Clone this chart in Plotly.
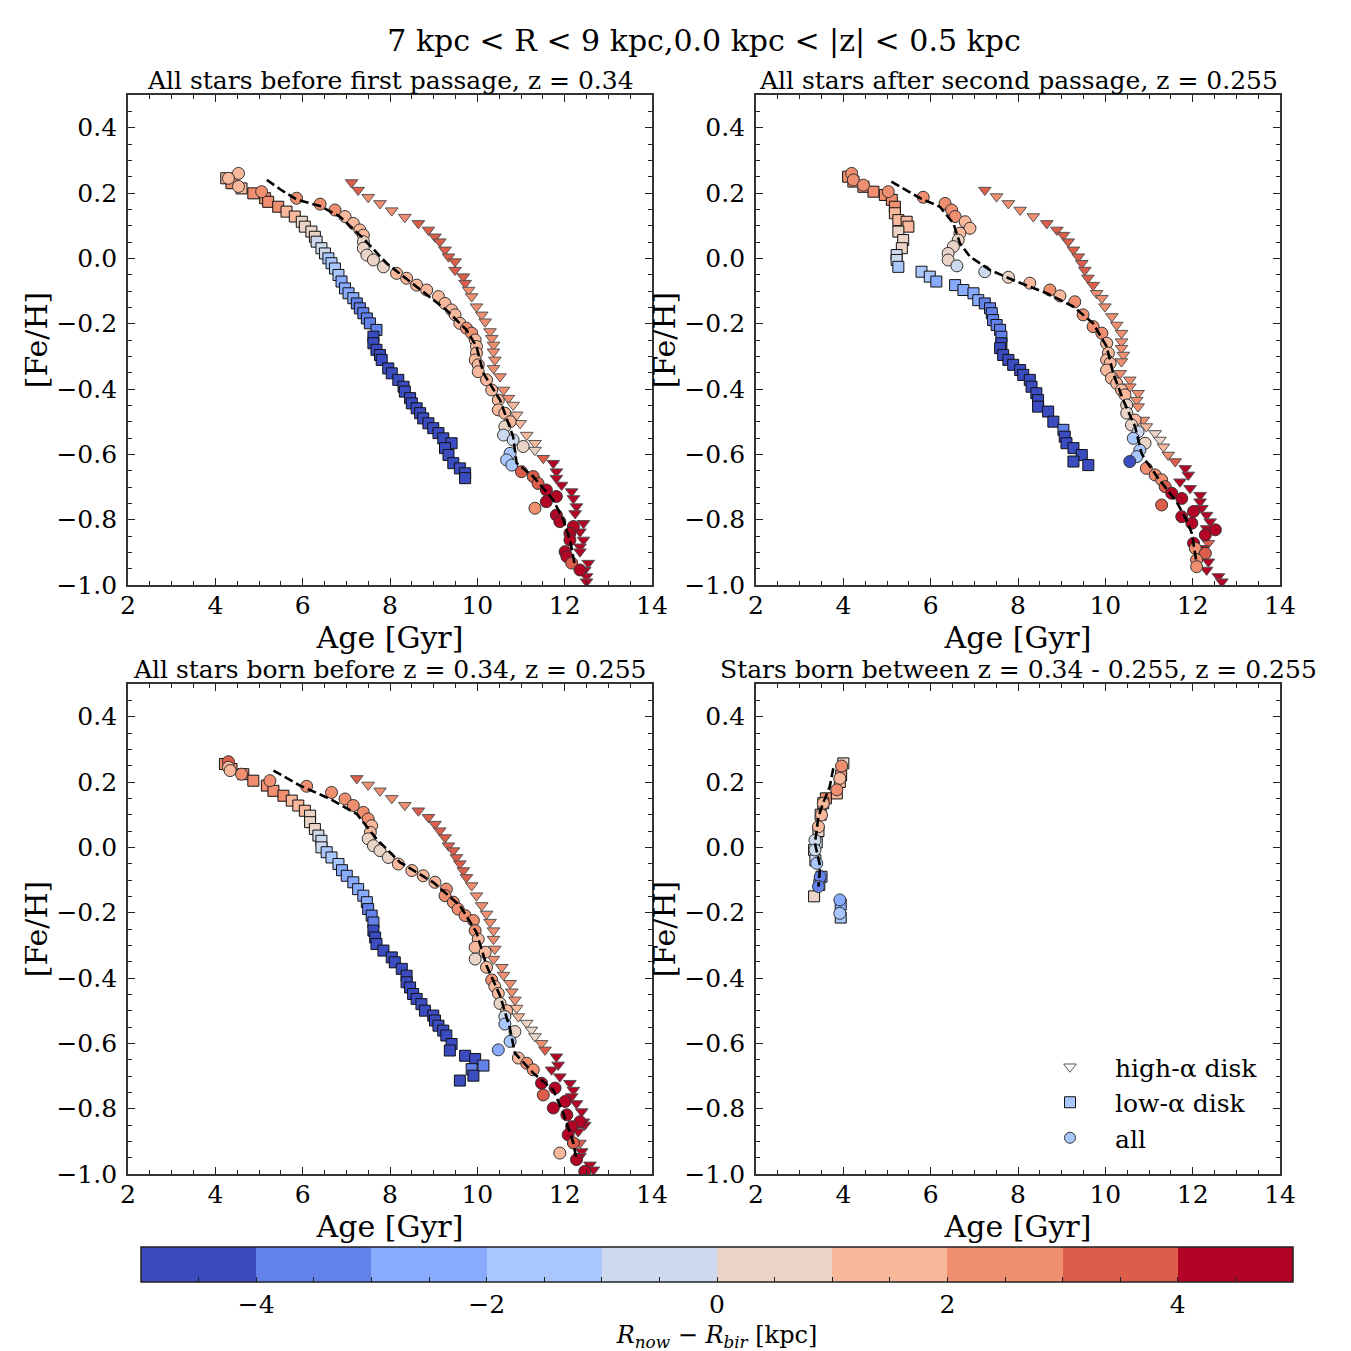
import plotly.graph_objects as go

FONT = "DejaVu Serif"
FW = 1343   # figure size (page has an 8px body margin)
OFF = 8

# ---------------- colour bins (R_now - R_bir) ----------------
bin_colors = ["#3b4cc0", "#6282ea", "#88abfd", "#aac7fd", "#cdd9ec",
              "#ead4c8", "#f7b89c", "#f08f70", "#dc5d4a", "#b40426"]
cbar_tickvals = [-4.5, -4, -3.5, -3, -2.5, -2, -1.5, -1, -0.5, 0, 0.5, 1, 1.5, 2, 2.5, 3, 3.5, 4, 4.5]
cbar_ticktext = ["", "\u22124", "", "", "", "\u22122", "", "", "", "0", "", "", "", "2", "", "", "", "4", ""]

# ---------------- panel 1: before first passage ----------------
p1_lo_age = [4.25,4.37,4.6,4.87,5.14,5.21,5.44,5.63,5.82,5.98,6.05,6.2,6.28,6.32,6.43,6.51,6.59,6.66,6.74,6.82,
             6.89,6.97,7.05,7.16,7.24,7.31,7.39,7.47,7.54,7.69,7.62,7.62,7.69,7.77,7.81,7.96,8.04,8.19,8.31,8.34,
             8.46,8.5,8.61,8.69,8.76,8.88,8.99,9.11,9.22,9.41,9.26,9.34,9.45,9.6,9.72,9.72]
p1_lo_feh = [0.245,0.23,0.214,0.199,0.184,0.173,0.158,0.143,0.128,0.112,0.097,0.082,0.066,0.051,0.031,0.015,0.0,-0.015,-0.031,-0.051,
             -0.071,-0.092,-0.107,-0.122,-0.138,-0.153,-0.168,-0.184,-0.199,-0.219,-0.24,-0.26,-0.28,-0.296,-0.311,-0.337,-0.352,-0.372,-0.393,-0.408,
             -0.428,-0.444,-0.459,-0.474,-0.49,-0.505,-0.52,-0.535,-0.551,-0.566,-0.581,-0.602,-0.627,-0.643,-0.658,-0.673]
p1_lo_dr = [1.5,2.5,1.5,2.5,2.5,2.5,2.5,1.5,1.5,0.5,0.5,0.5,0.5,-0.5,-0.5,-0.5,-1.5,-1.5,-1.5,-1.5,
            -2.5,-2.5,-2.5,-2.5,-3.5,-3.5,-3.5,-3.5,-3.5,-3.5,-4.5,-4.5,-4.5,-4.5,-4.5,-4.5,-4.5,-4.5,-4.5,-4.5,
            -4.5,-4.5,-4.5,-4.5,-4.5,-4.5,-4.5,-4.5,-4.5,-4.5,-4.5,-4.5,-4.5,-4.5,-4.5,-4.5]

p1_all_age = [4.53,4.3,4.53,5.06,5.86,6.4,6.74,6.97,7.16,7.31,7.39,7.39,7.39,7.47,7.62,7.85,8.15,8.38,8.61,8.84,
              9.11,9.26,9.41,9.49,9.6,9.75,9.87,9.95,9.98,9.98,9.95,10.02,10.02,10.21,10.33,10.48,10.48,10.63,10.75,10.63,
              10.6,10.82,11.05,10.75,10.67,10.79,11.01,11.28,11.39,11.58,11.81,11.58,11.32,11.81,11.89,12.2,12.12,12.12,12.01,12.05,
              12.16,12.35]
p1_all_feh = [0.26,0.245,0.22,0.204,0.184,0.166,0.148,0.128,0.107,0.087,0.071,0.051,0.031,0.01,-0.005,-0.026,-0.046,-0.061,-0.082,-0.097,
              -0.117,-0.138,-0.158,-0.173,-0.199,-0.214,-0.229,-0.25,-0.27,-0.29,-0.311,-0.326,-0.347,-0.372,-0.403,-0.434,-0.464,-0.474,-0.5,-0.515,
              -0.541,-0.556,-0.576,-0.597,-0.617,-0.633,-0.653,-0.668,-0.689,-0.709,-0.729,-0.745,-0.765,-0.786,-0.806,-0.821,-0.842,-0.862,-0.898,-0.913,
              -0.933,-0.954]
p1_all_dr = [1.5,1.5,1.5,2.5,2.5,2.5,2.5,1.5,1.5,1.5,1.5,0.5,0.5,0.5,0.5,0.5,1.5,1.5,1.5,1.5,
             1.5,1.5,1.5,1.5,1.5,2.5,2.5,1.5,1.5,1.5,1.5,1.5,1.5,1.5,1.5,1.5,1.5,1.5,1.5,0.5,
             -0.5,-0.5,0.5,-1.5,-1.5,-1.5,3.5,3.5,3.5,4.5,4.5,4.5,2.5,4.5,4.5,4.5,4.5,4.5,4.5,4.5,
             3.5,4.5]

p1_hi_age = [7.12,7.27,7.5,7.77,8.04,8.34,8.65,8.88,9.03,9.14,9.26,9.34,9.49,9.49,9.68,9.72,9.8,9.87,9.98,10.1,
             10.18,10.29,10.33,10.37,10.37,10.4,10.37,10.52,10.6,10.71,10.82,10.9,10.98,11.13,11.32,11.32,11.51,11.74,11.81,11.81,
             11.93,12.16,12.2,12.27,12.24,12.43,12.35,12.43,12.35,12.35,12.54,12.46,12.5,12.5]
p1_hi_feh = [0.232,0.209,0.187,0.168,0.146,0.126,0.107,0.087,0.066,0.051,0.026,0.005,-0.01,-0.036,-0.056,-0.076,-0.097,-0.117,-0.148,-0.173,
             -0.194,-0.224,-0.245,-0.265,-0.286,-0.311,-0.337,-0.362,-0.403,-0.428,-0.449,-0.479,-0.505,-0.541,-0.566,-0.587,-0.612,-0.627,-0.653,-0.673,
             -0.694,-0.714,-0.735,-0.76,-0.781,-0.811,-0.837,-0.862,-0.883,-0.898,-0.933,-0.954,-0.974,-0.99]
p1_hi_dr = [3.5,3.5,2.5,2.5,2.5,2.5,3.5,3.5,3.5,3.5,3.5,3.5,3.5,3.5,3.5,3.5,2.5,2.5,2.5,2.5,
            2.5,2.5,2.5,2.5,2.5,2.5,2.5,2.5,2.5,2.5,1.5,1.5,1.5,1.5,1.5,0.5,3.5,4.5,4.5,4.5,
            4.5,4.5,4.5,4.5,4.5,4.5,4.5,4.5,4.5,4.5,4.5,4.5,4.5,4.5]

p1_mean_age = [5.18,5.5,5.86,6.4,6.85,7.39,7.92,8.61,9.29,9.75,9.98,10.14,10.52,10.82,10.9,11.28,11.74,11.97,12.12,12.24]
p1_mean_feh = [0.24,0.21,0.18,0.16,0.128,0.061,-0.015,-0.087,-0.158,-0.219,-0.27,-0.352,-0.434,-0.546,-0.627,-0.668,-0.74,-0.801,-0.862,-0.944]

# ---------------- panel 2: after second passage ----------------
p2_lo_age = [4.11,4.23,4.46,4.69,4.95,5.11,5.18,5.18,5.26,5.45,5.49,5.26,5.37,5.34,5.22,5.22,5.26,5.79,5.98,6.13,
             6.56,6.75,6.98,7.09,7.24,7.36,7.4,7.43,7.51,7.59,7.62,7.62,7.59,7.66,7.78,7.89,8.05,8.12,8.27,8.31,
             8.42,8.46,8.46,8.69,8.81,9.04,9.07,9.11,9.27,9.46,9.27,9.61]
p2_lo_feh = [0.25,0.235,0.219,0.204,0.194,0.179,0.158,0.138,0.117,0.112,0.097,0.082,0.056,0.031,0.01,-0.005,-0.026,-0.041,-0.056,-0.071,
             -0.082,-0.097,-0.107,-0.128,-0.138,-0.153,-0.168,-0.189,-0.204,-0.219,-0.24,-0.26,-0.275,-0.296,-0.311,-0.326,-0.342,-0.357,-0.372,-0.393,
             -0.413,-0.434,-0.454,-0.469,-0.5,-0.525,-0.546,-0.566,-0.581,-0.602,-0.622,-0.633]
p2_lo_dr = [2.5,2.5,2.5,2.5,2.5,2.5,2.5,1.5,1.5,1.5,1.5,0.5,0.5,0.5,-0.5,-0.5,-1.5,-1.5,-1.5,-2.5,
            -2.5,-2.5,-2.5,-2.5,-3.5,-3.5,-3.5,-3.5,-3.5,-3.5,-3.5,-4.5,-4.5,-4.5,-4.5,-4.5,-4.5,-4.5,-4.5,-4.5,
            -4.5,-4.5,-4.5,-4.5,-4.5,-3.5,-4.5,-4.5,-4.5,-4.5,-4.5,-4.5]

p2_all_age = [4.19,4.23,4.46,5.03,5.83,6.33,6.48,6.56,6.79,6.9,6.67,6.63,6.52,6.4,6.4,6.6,7.24,7.78,8.27,8.73,
              8.96,9.3,9.49,9.72,9.92,10.03,10.07,10.03,10.11,10.03,10.14,10.26,10.37,10.45,10.49,10.49,10.68,10.6,10.75,10.64,
              10.91,10.79,10.72,10.56,10.94,11.14,11.29,11.37,11.52,11.75,11.29,12.02,11.75,11.98,12.52,12.29,12.02,12.06,12.29,12.09,
              12.09]
p2_all_feh = [0.26,0.24,0.224,0.204,0.187,0.168,0.148,0.128,0.112,0.092,0.077,0.056,0.036,0.015,-0.005,-0.023,-0.041,-0.058,-0.076,-0.097,
              -0.115,-0.133,-0.173,-0.209,-0.229,-0.26,-0.29,-0.311,-0.321,-0.342,-0.367,-0.383,-0.403,-0.418,-0.449,-0.474,-0.495,-0.51,-0.531,-0.551,
              -0.566,-0.587,-0.607,-0.622,-0.643,-0.663,-0.678,-0.699,-0.719,-0.735,-0.755,-0.775,-0.791,-0.811,-0.831,-0.847,-0.872,-0.888,-0.903,-0.923,
              -0.944]
p2_all_dr = [2.5,2.5,2.5,2.5,2.5,2.5,2.5,2.5,1.5,1.5,1.5,0.5,0.5,0.5,0.5,-0.5,-0.5,0.5,1.5,2.5,
             1.5,2.5,2.5,2.5,2.5,1.5,1.5,1.5,1.5,1.5,1.5,1.5,1.5,1.5,0.5,0.5,1.5,0.5,-0.5,-1.5,
             0.5,-1.5,-1.5,-4.5,2.5,2.5,2.5,3.5,4.5,4.5,3.5,4.5,4.5,4.5,4.5,4.5,4.5,2.5,3.5,2.5,
             2.5]

p2_hi_age = [7.24,7.51,7.78,8.05,8.35,8.66,8.89,9.04,9.15,9.27,9.38,9.46,9.53,9.6,9.72,9.8,9.92,9.99,10.15,10.26,
             10.37,10.37,10.37,10.41,10.37,10.34,10.56,10.56,10.75,10.72,10.75,10.87,10.94,11.14,11.25,11.33,11.44,11.6,11.83,11.9,
             11.71,11.94,12.17,12.17,12.21,12.32,12.4,12.32,12.36,12.24,12.36,12.32,12.59,12.67]
p2_hi_feh = [0.209,0.189,0.168,0.148,0.128,0.107,0.087,0.071,0.051,0.026,0.005,-0.015,-0.036,-0.06,-0.082,-0.107,-0.122,-0.148,-0.178,-0.204,
             -0.229,-0.255,-0.275,-0.296,-0.316,-0.352,-0.372,-0.393,-0.413,-0.434,-0.454,-0.495,-0.515,-0.536,-0.556,-0.577,-0.602,-0.622,-0.643,-0.663,
             -0.684,-0.704,-0.725,-0.745,-0.765,-0.786,-0.806,-0.827,-0.872,-0.888,-0.929,-0.954,-0.974,-0.99]
p2_hi_dr = [3.5,2.5,2.5,2.5,2.5,3.5,3.5,3.5,3.5,3.5,3.5,3.5,3.5,3.5,3.5,2.5,2.5,2.5,2.5,2.5,
            2.5,2.5,2.5,2.5,2.5,2.5,2.5,2.5,2.5,2.5,2.5,2.5,1.5,0.5,0.5,1.5,2.5,3.5,4.5,4.5,
            4.5,4.5,4.5,4.5,4.5,4.5,4.5,4.5,3.5,4.5,4.5,4.5,4.5,4.5]

p2_mean_age = [5.1,5.76,6.21,6.52,6.67,6.9,7.36,7.97,8.66,9.27,9.72,10.03,10.18,10.41,10.68,10.83,10.94,11.21,11.63,11.86,11.98,12.09]
p2_mean_feh = [0.235,0.184,0.158,0.107,0.046,0.005,-0.036,-0.071,-0.107,-0.148,-0.199,-0.27,-0.352,-0.434,-0.515,-0.597,-0.622,-0.673,-0.745,-0.801,-0.842,-0.933]

# ---------------- panel 3: born before z = 0.34 ----------------
p3_lo_age = [4.22,4.37,4.64,4.87,5.18,5.33,5.56,5.75,5.9,6.05,6.17,6.17,6.28,6.36,6.43,6.43,6.55,6.66,6.82,6.9,
             7.01,7.16,7.27,7.39,7.47,7.5,7.58,7.62,7.62,7.66,7.69,7.85,8.04,8.11,8.27,8.38,8.38,8.46,8.53,8.61,
             8.72,8.8,8.99,9.03,9.11,9.22,9.29,9.41,9.37,9.72,9.95,10.14,9.87,9.91,9.6]
p3_lo_feh = [0.255,0.24,0.224,0.204,0.189,0.173,0.158,0.143,0.128,0.112,0.097,0.077,0.056,0.036,0.02,0.0,-0.015,-0.031,-0.051,-0.07,
             -0.087,-0.107,-0.128,-0.148,-0.168,-0.189,-0.209,-0.23,-0.255,-0.276,-0.296,-0.316,-0.337,-0.352,-0.372,-0.393,-0.413,-0.429,-0.449,-0.464,
             -0.48,-0.5,-0.515,-0.53,-0.546,-0.561,-0.576,-0.602,-0.622,-0.638,-0.648,-0.668,-0.679,-0.699,-0.714]
p3_lo_dr = [2.5,2.5,2.5,2.5,2.5,2.5,2.5,1.5,1.5,1.5,0.5,0.5,0.5,-0.5,-0.5,-0.5,-1.5,-1.5,-1.5,-2.5,
            -2.5,-2.5,-2.5,-2.5,-2.5,-3.5,-3.5,-3.5,-4.5,-4.5,-4.5,-4.5,-4.5,-4.5,-4.5,-4.5,-4.5,-4.5,-4.5,-4.5,
            -4.5,-4.5,-4.5,-4.5,-4.5,-4.5,-4.5,-4.5,-4.5,-4.5,-4.5,-3.5,-3.5,-4.5,-4.5]

p3_all_age = [4.3,4.3,4.34,4.6,5.25,6.09,6.66,6.97,7.16,7.39,7.5,7.58,7.55,7.5,7.62,7.77,7.96,8.19,8.5,8.76,
              9.03,9.29,9.26,9.45,9.56,9.72,9.91,9.95,10.02,9.95,10.18,9.95,10.21,10.33,10.4,10.48,10.52,10.67,10.63,10.63,
              10.86,10.75,10.48,10.94,11.13,11.28,11.47,11.78,11.51,12.01,11.74,12.05,12.35,12.16,12.08,12.2,11.89,12.27,12.46]
p3_all_feh = [0.262,0.245,0.235,0.224,0.204,0.187,0.168,0.148,0.128,0.107,0.087,0.066,0.046,0.026,0.005,-0.01,-0.031,-0.051,-0.071,-0.087,
              -0.107,-0.128,-0.148,-0.168,-0.189,-0.209,-0.224,-0.255,-0.281,-0.306,-0.321,-0.342,-0.367,-0.406,-0.426,-0.447,-0.478,-0.5,-0.518,-0.541,
              -0.564,-0.594,-0.62,-0.645,-0.661,-0.681,-0.722,-0.737,-0.758,-0.778,-0.798,-0.819,-0.84,-0.855,-0.88,-0.905,-0.936,-0.956,-0.992]
p3_all_dr = [3.5,1.5,1.5,2.5,2.5,2.5,2.5,2.5,2.5,2.5,2.5,1.5,1.5,0.5,0.5,0.5,0.5,1.5,1.5,1.5,
             1.5,2.5,2.5,2.5,2.5,2.5,2.5,2.5,1.5,1.5,1.5,0.5,1.5,2.5,1.5,1.5,0.5,1.5,-0.5,-1.5,
             0.5,-1.5,-2.5,1.5,2.5,2.5,4.5,4.5,3.5,4.5,4.5,4.5,4.5,4.5,4.5,3.5,1.5,4.5,4.5]

p3_hi_age = [7.24,7.5,7.77,8.04,8.34,8.65,8.88,9.03,9.14,9.26,9.34,9.45,9.52,9.6,9.68,9.75,9.87,9.98,10.1,10.21,
             10.29,10.37,10.37,10.4,10.37,10.56,10.6,10.75,10.79,10.86,10.9,10.94,11.13,11.24,11.32,11.47,11.55,11.81,11.85,11.7,
             11.89,12.12,12.2,12.16,12.27,12.39,12.43,12.46,12.31,12.35,12.39,12.35,12.58,12.66]
p3_hi_feh = [0.211,0.191,0.173,0.15,0.129,0.112,0.092,0.071,0.051,0.03,0.005,-0.01,-0.031,-0.05,-0.071,-0.092,-0.117,-0.148,-0.178,-0.204,
             -0.229,-0.255,-0.281,-0.311,-0.342,-0.367,-0.391,-0.416,-0.442,-0.467,-0.492,-0.518,-0.538,-0.559,-0.579,-0.6,-0.62,-0.641,-0.666,-0.681,
             -0.702,-0.722,-0.743,-0.763,-0.784,-0.809,-0.84,-0.85,-0.87,-0.905,-0.931,-0.946,-0.972,-0.987]
p3_hi_dr = [3.5,2.5,2.5,2.5,2.5,3.5,3.5,3.5,3.5,3.5,3.5,3.5,3.5,3.5,3.5,3.5,2.5,2.5,2.5,2.5,
            2.5,2.5,2.5,2.5,2.5,2.5,2.5,2.5,2.5,2.5,1.5,1.5,0.5,0.5,0.5,2.5,3.5,4.5,4.5,4.5,
            4.5,4.5,4.5,4.5,4.5,4.5,4.5,4.5,4.5,3.5,4.5,4.5,4.5,4.5]

p3_mean_age = [5.33,5.94,6.63,7.24,7.69,8.23,8.99,9.6,9.98,10.21,10.52,10.75,10.86,11.28,11.74,11.97,12.2,12.27]
p3_mean_feh = [0.235,0.189,0.148,0.102,0.026,-0.046,-0.107,-0.178,-0.26,-0.362,-0.454,-0.556,-0.63,-0.691,-0.743,-0.814,-0.905,-0.956]

# ---------------- panel 4: born between z = 0.34 - 0.255 ----------------
p4_lo_age = [4.0,3.95,3.92,3.85,3.6,3.54,3.48,3.43,3.39,3.33,3.36,3.5,3.45,3.33,3.94,3.94]
p4_lo_feh = [0.257,0.22,0.2,0.165,0.15,0.135,0.1,0.05,0.015,-0.008,-0.04,-0.09,-0.115,-0.15,-0.175,-0.215]
p4_lo_dr = [0.5,2.5,1.5,1.5,2.5,1.5,1.5,0.5,-0.5,-0.5,-0.5,-2.5,-2.5,0.5,-2.5,-1.5]

p4_all_age = [3.96,3.92,3.85,3.54,3.5,3.43,3.35,3.35,3.39,3.47,3.43,3.92,3.92]
p4_all_feh = [0.249,0.211,0.176,0.135,0.099,0.063,0.022,-0.008,-0.049,-0.09,-0.12,-0.161,-0.202]
p4_all_dr = [2.5,1.5,2.5,1.5,1.5,1.5,-0.5,-0.5,-1.5,-3.5,-3.5,-2.5,-1.5]

p4_mean_age = [3.77,3.69,3.55,3.43,3.35,3.47,3.43]
p4_mean_feh = [0.242,0.186,0.14,0.094,0.012,-0.059,-0.12]

titles = ["All stars before first passage, z = 0.34",
          "All stars after second passage, z = 0.255",
          "All stars born before z = 0.34, z = 0.255",
          "Stars born between z = 0.34 - 0.255, z = 0.255"]


def fx(px):
    return (px - OFF) / FW


def fy(py):
    return 1 - (py - OFF) / FW


CS = []
for i, c in enumerate(bin_colors):
    CS.append([i / 10, c])
    CS.append([(i + 1) / 10, c])

# axes pixel boxes on the page (left, right, top, bottom)
boxes = [(128, 652, 95, 585), (756, 1280, 95, 585), (128, 652, 684, 1174), (756, 1280, 684, 1174)]

fig = go.Figure()


def add_markers(ax, x, y, dr, symbol, size, edge, showscale=False):
    marker = dict(symbol=symbol, size=size, color=dr, colorscale=CS, cmin=-5, cmax=5,
                  line=dict(color=edge, width=1))
    if showscale:
        marker["showscale"] = True
        marker["colorbar"] = dict(
            orientation="h", x=fx(717), xanchor="center", y=fy(1247), yanchor="top",
            len=1152, lenmode="pixels", thickness=35, thicknessmode="pixels",
            outlinecolor="#222", outlinewidth=1.5, xpad=0, ypad=0,
            tickvals=cbar_tickvals, ticktext=cbar_ticktext,
            ticks="inside", ticklen=5, tickcolor="#222",
            tickfont=dict(family=FONT, size=25, color="black"),
            title=dict(text="<i>R</i><sub><i>now</i></sub> \u2212 <i>R</i><sub><i>bir</i></sub> [kpc]",
                       side="bottom", font=dict(family=FONT, size=24, color="black")))
    fig.add_trace(go.Scatter(x=x, y=y, mode="markers", xaxis="x" + ax, yaxis="y" + ax,
                             marker=marker, showlegend=False, hoverinfo="skip"))


def add_mean(ax, x, y):
    fig.add_trace(go.Scatter(x=x, y=y, mode="lines", xaxis="x" + ax, yaxis="y" + ax,
                             line=dict(color="black", width=2.6, dash="9px,4px"),
                             showlegend=False, hoverinfo="skip"))


panels = [
    ("", p1_hi_age, p1_hi_feh, p1_hi_dr, p1_lo_age, p1_lo_feh, p1_lo_dr, p1_all_age, p1_all_feh, p1_all_dr, p1_mean_age, p1_mean_feh),
    ("2", p2_hi_age, p2_hi_feh, p2_hi_dr, p2_lo_age, p2_lo_feh, p2_lo_dr, p2_all_age, p2_all_feh, p2_all_dr, p2_mean_age, p2_mean_feh),
    ("3", p3_hi_age, p3_hi_feh, p3_hi_dr, p3_lo_age, p3_lo_feh, p3_lo_dr, p3_all_age, p3_all_feh, p3_all_dr, p3_mean_age, p3_mean_feh),
]
first = True
for ax, ha, hf, hd, la, lf, ld, aa, af, ad, ma, mf in panels:
    add_markers(ax, ha, hf, hd, "triangle-down", 11, "#555555")
    add_markers(ax, la, lf, ld, "square", 11, "#111111")
    add_markers(ax, aa, af, ad, "circle", 12, "#333333", showscale=first)
    add_mean(ax, ma, mf)
    first = False

add_markers("4", p4_lo_age, p4_lo_feh, p4_lo_dr, "square", 11, "#111111")
add_markers("4", p4_all_age, p4_all_feh, p4_all_dr, "circle", 12, "#333333")
add_mean("4", p4_mean_age, p4_mean_feh)

# legend entries
leg = [("high-\u03b1 disk", "triangle-down", "white", "#555555"),
       ("low-\u03b1 disk", "square", "#aac7fd", "#111111"),
       ("all", "circle", "#aac7fd", "#333333")]
for i, (name, sym, col, edge) in enumerate(leg):
    fig.add_trace(go.Scatter(x=[None], y=[None], mode="markers", xaxis="x4", yaxis="y4", name=name,
                             legendgroup="g%d" % i,
                             marker=dict(symbol=sym, size=11, color=col, line=dict(color=edge, width=1))))

layout = dict(width=FW, height=FW, autosize=False, plot_bgcolor="white", paper_bgcolor="white",
              margin=dict(l=0, r=0, t=0, b=0, autoexpand=False),
              font=dict(family=FONT, color="black"),
              title=dict(text="7 kpc &lt; R &lt; 9 kpc,0.0 kpc &lt; |z| &lt; 0.5 kpc",
                         x=fx(704), xanchor="center", y=fy(40), yanchor="middle",
                         font=dict(family=FONT, size=30, color="black")),
              legend=dict(x=fx(1025), y=fy(1044), xanchor="left", yanchor="top",
                          bgcolor="rgba(0,0,0,0)", traceorder="grouped", tracegroupgap=0,
                          font=dict(family=FONT, size=25, color="black"), itemwidth=80))

annotations = []
for i, (l, r, t, b) in enumerate(boxes):
    s = "" if i == 0 else str(i + 1)
    common = dict(showline=True, linecolor="#333333", linewidth=1.8, mirror="ticks",
                  ticks="inside", tickcolor="#222222", tickwidth=1.2, ticklen=7,
                  showgrid=False, zeroline=False,
                  tickfont=dict(family=FONT, size=25, color="black"))
    layout["xaxis" + s] = dict(common, domain=[fx(l), fx(r)], anchor="y" + s,
                               range=[2, 14], tick0=2, dtick=2, ticklabelstandoff=-3,
                               minor=dict(dtick=0.5, ticks="inside", ticklen=4, tickwidth=1, tickcolor="#222222"),
                               title=dict(text="Age [Gyr]", font=dict(family=FONT, size=30, color="black"), standoff=0))
    layout["yaxis" + s] = dict(common, domain=[fy(b), fy(t)], anchor="x" + s,
                               range=[-1.0, 0.5], tick0=0, dtick=0.2, tickformat=".1f",
                               minor=dict(dtick=0.05, ticks="inside", ticklen=4, tickwidth=1, tickcolor="#222222"),
                               ticklabelstandoff=4,
                               title=dict(text="[Fe/H]", font=dict(family=FONT, size=30, color="black"), standoff=0))
    annotations.append(dict(text=titles[i], xref="paper", yref="paper", x=fx((l + r) / 2),
                            y=fy(t + 2), xanchor="center", yanchor="bottom", showarrow=False,
                            font=dict(family=FONT, size=25, color="black")))
layout["annotations"] = annotations
fig.update_layout(**layout)

fig.write_html("out.html")
